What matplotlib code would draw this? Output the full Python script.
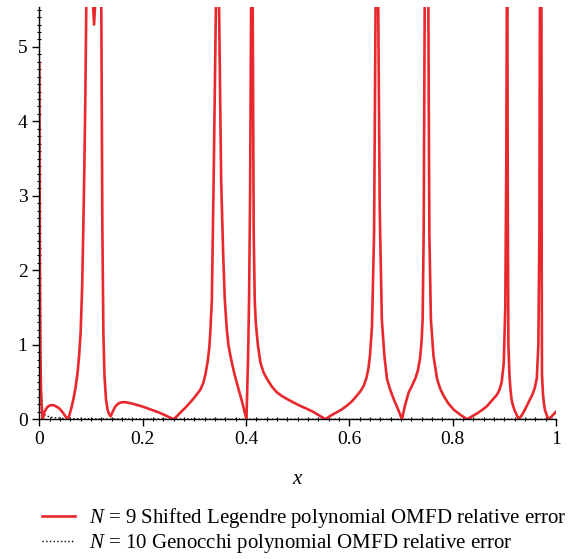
import matplotlib
matplotlib.use("Agg")
import matplotlib.pyplot as plt
from matplotlib.ticker import MultipleLocator

plt.rcParams['font.family'] = ['Liberation Serif', 'DejaVu Serif']
plt.rcParams['mathtext.fontset'] = 'custom'
plt.rcParams['mathtext.rm'] = 'Liberation Serif'
plt.rcParams['mathtext.it'] = 'Liberation Serif:italic'

# N = 9 shifted Legendre relative error
leg_x = [0.0, 0.001, 0.002, 0.0035, 0.005, 0.0066,
         0.010, 0.015, 0.020, 0.024, 0.029, 0.033, 0.038, 0.042, 0.046, 0.050, 0.055,
         0.058, 0.062, 0.066, 0.070, 0.074, 0.077, 0.080, 0.083, 0.085, 0.087, 0.089,
         0.091, 0.097,
         0.103, 0.106, 0.109, 0.116,
         0.120, 0.121, 0.122, 0.124, 0.126, 0.129, 0.132, 0.135, 0.138,
         0.142, 0.147, 0.152, 0.157, 0.163, 0.170, 0.180, 0.190, 0.200, 0.210,
         0.220, 0.230, 0.240, 0.250, 0.260,
         0.267, 0.273, 0.282, 0.290, 0.300, 0.312, 0.318, 0.322, 0.326, 0.329,
         0.331, 0.334, 0.338, 0.342, 0.345,
         0.348, 0.352, 0.356, 0.359, 0.363, 0.366, 0.370, 0.374, 0.378, 0.382,
         0.386, 0.390, 0.393, 0.397, 0.401,
         0.404, 0.406, 0.408, 0.410, 0.4115, 0.413, 0.415, 0.417, 0.419, 0.423,
         0.428, 0.434, 0.440, 0.450, 0.460, 0.470, 0.480, 0.492, 0.505, 0.518,
         0.530, 0.542, 0.554,
         0.562, 0.575, 0.585, 0.595, 0.605, 0.615, 0.622, 0.628, 0.633, 0.637,
         0.640, 0.644, 0.648, 0.651, 0.6535, 0.656,
         0.659, 0.663, 0.668, 0.673, 0.679, 0.686, 0.694, 0.702,
         0.708, 0.715, 0.722, 0.728, 0.733, 0.737, 0.740, 0.742, 0.744, 0.746,
         0.7495, 0.753, 0.755, 0.758,
         0.763, 0.770, 0.776, 0.783, 0.792, 0.802, 0.815, 0.828,
         0.838, 0.850, 0.860, 0.867, 0.877, 0.886, 0.891, 0.895, 0.899, 0.902,
         0.904, 0.905, 0.9055, 0.906,
         0.907, 0.908, 0.910, 0.912, 0.914, 0.917, 0.920, 0.924, 0.928,
         0.933, 0.937, 0.943, 0.950, 0.955, 0.959, 0.963, 0.966, 0.968, 0.969,
         0.9705, 0.972, 0.9725,
         0.973, 0.975, 0.977, 0.979, 0.982, 0.985, 0.989, 0.992, 0.9985, 1.0]
leg_y = [4.78, 2.2, 0.9, 0.35, 0.12, 0.0,
         0.10, 0.16, 0.185, 0.19, 0.185, 0.17, 0.15, 0.12, 0.085, 0.045, 0.0,
         0.05, 0.15, 0.27, 0.42, 0.62, 0.85, 1.17, 1.8, 2.51, 3.3, 4.29,
         5.6, 8.0,
         5.7, 5.3, 5.7, 8.0,
         5.5, 4.0, 2.6, 1.17, 0.6, 0.27, 0.13, 0.07, 0.04,
         0.10, 0.17, 0.205, 0.225, 0.23, 0.225, 0.21, 0.19, 0.17, 0.145,
         0.12, 0.095, 0.065, 0.033, 0.0,
         0.045, 0.09, 0.15, 0.21, 0.29, 0.40, 0.50, 0.62, 0.78, 0.96,
         1.17, 1.61, 3.5, 5.63, 9.0,
         5.5, 3.2, 2.2, 1.61, 1.2, 1.0, 0.85, 0.72, 0.60, 0.50,
         0.40, 0.30, 0.22, 0.11, 0.0,
         0.8, 1.6, 3.0, 5.6, 9.0, 5.6, 2.5, 1.6, 1.3, 1.0,
         0.76, 0.63, 0.55, 0.44, 0.36, 0.31, 0.27, 0.225, 0.18, 0.14,
         0.10, 0.05, 0.0,
         0.04, 0.09, 0.13, 0.18, 0.24, 0.32, 0.38, 0.45, 0.55, 0.68,
         0.85, 1.25, 2.5, 5.6, 9.0, 5.6,
         2.8, 1.34, 0.85, 0.54, 0.40, 0.27, 0.14, 0.0,
         0.19, 0.36, 0.46, 0.55, 0.66, 0.82, 1.05, 1.34, 2.5, 5.6,
         9.0, 5.6, 2.5, 1.34,
         0.85, 0.54, 0.41, 0.31, 0.21, 0.13, 0.06, 0.0,
         0.04, 0.09, 0.14, 0.18, 0.26, 0.33, 0.40, 0.50, 0.75, 1.5,
         3.5, 5.6, 9.0, 5.6,
         2.5, 1.0, 0.6, 0.40, 0.27, 0.18, 0.12, 0.06, 0.0,
         0.045, 0.09, 0.17, 0.27, 0.34, 0.42, 0.55, 1.0, 2.5, 5.6,
         9.0, 5.6, 2.0,
         0.6, 0.33, 0.20, 0.12, 0.06, 0.0, 0.02, 0.04, 0.09, 0.10]

# N = 10 Genocchi relative error
gen_x = [0.0, 0.001, 0.003, 0.006, 0.010, 0.020, 0.030, 0.050, 0.100, 0.500, 1.0]
gen_y = [6.0, 2.5, 0.5, 0.15, 0.06, 0.03, 0.02, 0.01, 0.005, 0.0, 0.0]

fig = plt.figure(figsize=(5.74, 5.59), dpi=100)
ax = fig.add_axes([0.0685, 0.25, 0.900, 0.738])

ax.plot(gen_x, gen_y, color='black', linestyle=':', linewidth=1.0,
        label='$N$ = 10 Genocchi polynomial OMFD relative error')
ax.plot(leg_x, leg_y, color='#e8282c', linewidth=1.9,
        label='$N$ = 9 Shifted Legendre polynomial OMFD relative error')

ax.set_xlim(0, 1)
ax.set_ylim(0, 5.54)
ax.spines['top'].set_visible(False)
ax.spines['right'].set_visible(False)
ax.spines['left'].set_linewidth(1.0)
ax.spines['bottom'].set_linewidth(1.0)

ax.xaxis.set_major_locator(MultipleLocator(0.2))
ax.xaxis.set_minor_locator(MultipleLocator(0.02))
ax.yaxis.set_major_locator(MultipleLocator(1))
ax.yaxis.set_minor_locator(MultipleLocator(0.1))
ax.set_xticks([0, 0.2, 0.4, 0.6, 0.8, 1.0])
ax.set_xticklabels(['0', '0.2', '0.4', '0.6', '0.8', '1'])
ax.tick_params(which='major', direction='out', length=5, width=1, labelsize=14)
ax.tick_params(which='minor', direction='inout', length=3, width=0.8)

ax.set_xlabel('$x$', fontsize=15, labelpad=16)

handles, labels = ax.get_legend_handles_labels()
fig.legend(handles[::-1], labels[::-1], loc='upper left',
           bbox_to_anchor=(0.058, 0.109), frameon=False, fontsize=15,
           handlelength=1.6, handletextpad=0.65, labelspacing=0.1,
           borderaxespad=0)

fig.savefig('out.png', dpi=100)
